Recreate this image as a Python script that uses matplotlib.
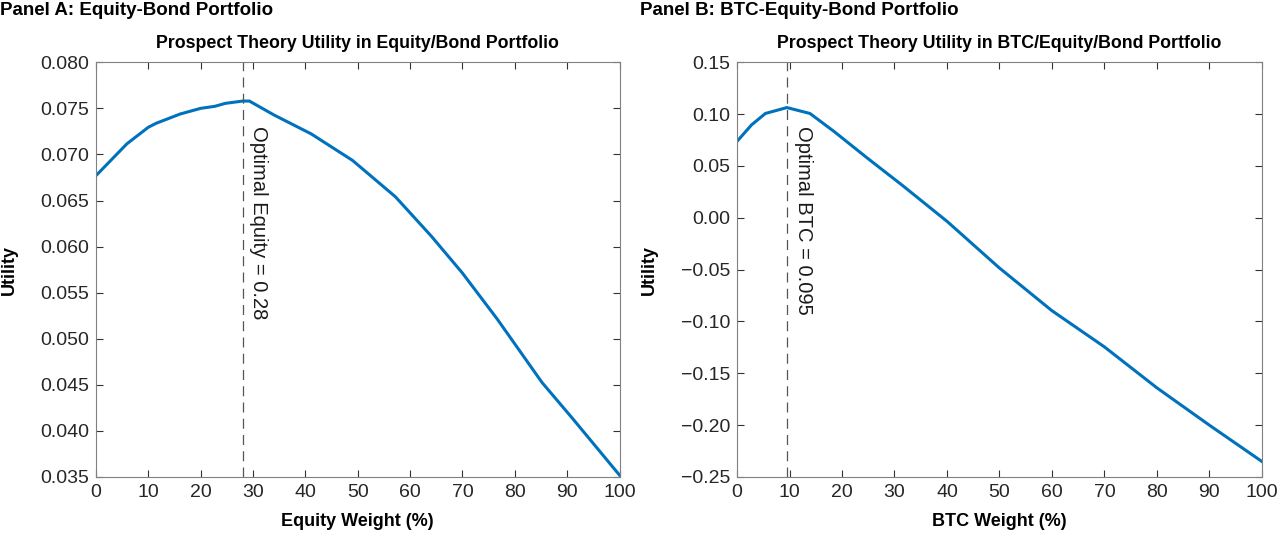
import numpy as np
import matplotlib
matplotlib.use("Agg")
import matplotlib.pyplot as plt

# Panel A: equity/bond portfolio utility
eq_w = [0, 5.9, 10, 11.5, 16.1, 20, 22.7, 24.7, 28, 29.3, 34, 41.1, 49, 57.2, 64.1, 70, 76.7, 85.2, 91.1, 100]
eq_u = [0.0677, 0.07115, 0.07295, 0.07338, 0.07439, 0.0750, 0.07522, 0.07554, 0.07579, 0.07579,
        0.07428, 0.07223, 0.06935, 0.0654, 0.0611, 0.05712, 0.05209, 0.04525, 0.0413, 0.0352]
opt_eq = 28

# Panel B: BTC/equity/bond portfolio utility
btc_w = [0, 2.75, 5.4, 9.5, 13.9, 18.5, 25, 31.6, 40.1, 49.9, 60, 70, 80, 90, 100]
btc_u = [0.0737, 0.0895, 0.1006, 0.1063, 0.1006, 0.0832, 0.0569, 0.0309, -0.0038, -0.048,
         -0.0896, -0.1245, -0.164, -0.20, -0.235]
opt_btc = 9.5

head = ['Liberation Sans', 'DejaVu Sans']
plt.rcParams['font.family'] = ['Liberation Sans', 'DejaVu Sans']

fig = plt.figure(figsize=(12.8, 5.4), dpi=100)
axA = fig.add_axes([0.075, 0.1167, 0.409, 0.768])
axB = fig.add_axes([0.5758, 0.1167, 0.410, 0.768])

blue = '#0072BD'

def style(ax, xlab, title):
    ax.set_xlim(0, 100)
    ax.set_xticks(range(0, 101, 10))
    ax.tick_params(direction='in', top=True, right=True, labelsize=14, length=5,
                   color='#333333', labelcolor='#262626', pad=5)
    for s in ax.spines.values():
        s.set_color('#808080')
    ax.set_xlabel(xlab, family=head, fontweight='bold', fontsize=13, labelpad=9)
    ax.set_ylabel('Utility', family=head, fontweight='bold', fontsize=13)
    ax.set_title(title, family=head, fontweight='bold', fontsize=12.8, pad=10)
    ax.yaxis.set_label_coords(-0.15, 0.5)

axA.plot(eq_w, eq_u, color=blue, lw=2.2)
axA.axvline(opt_eq, color='#555555', lw=0.9, ls=(0, (8, 5)))
axA.set_ylim(0.035, 0.080)
at = np.arange(0.035, 0.0801, 0.005)
axA.set_yticks(at)
axA.set_yticklabels([f'{v:.3f}' for v in at])
axA.text(opt_eq + 1.3, 0.0731, 'Optimal Equity = 0.28', rotation=270, va='top', ha='left',
         fontsize=14.5, color='#1a1a1a')
style(axA, 'Equity Weight (%)', 'Prospect Theory Utility in Equity/Bond Portfolio')

axB.plot(btc_w, btc_u, color=blue, lw=2.2)
axB.axvline(opt_btc, color='#555555', lw=0.9, ls=(0, (8, 5)))
axB.set_ylim(-0.25, 0.15)
bt = np.arange(-0.25, 0.151, 0.05)
axB.set_yticks(bt)
axB.set_yticklabels([f'{v:.2f}'.replace('-', '\u2212') if abs(v) > 1e-9 else '0.00' for v in bt])
axB.text(opt_btc + 1.3, 0.0883, 'Optimal BTC = 0.095', rotation=270, va='top', ha='left',
         fontsize=14.5, color='#1a1a1a')
style(axB, 'BTC Weight (%)', 'Prospect Theory Utility in BTC/Equity/Bond Portfolio')

fig.text(0.0, 0.997, 'Panel A: Equity-Bond Portfolio', family=head, fontweight='bold',
         fontsize=13.5, va='top', ha='left')
fig.text(0.5, 0.997, 'Panel B: BTC-Equity-Bond Portfolio', family=head, fontweight='bold',
         fontsize=13.5, va='top', ha='left')

fig.savefig('out.png', dpi=100)
